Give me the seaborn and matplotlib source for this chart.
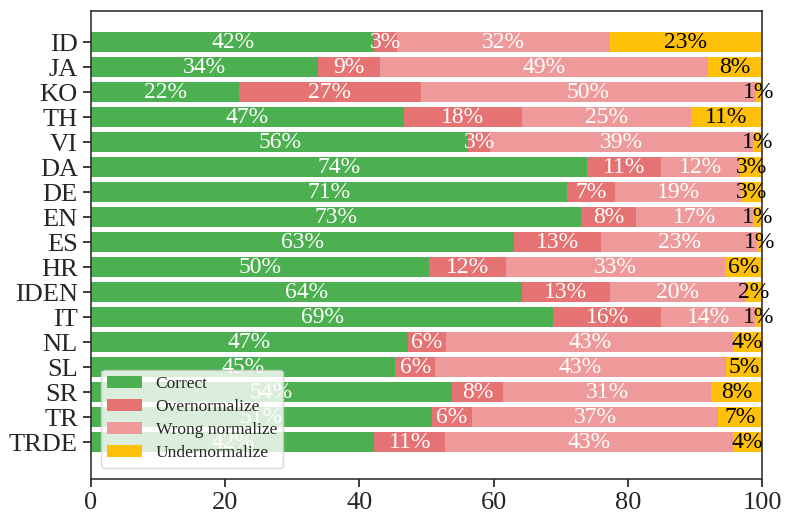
import matplotlib
matplotlib.use("Agg")
import matplotlib.pyplot as plt
import seaborn as sns
import numpy as np
import pandas as pd

languages = ["ID", "JA", "KO", "TH", "VI", "DA", "DE", "EN", "ES", "HR",
             "IDEN", "IT", "NL", "SL", "SR", "TR", "TRDE"]
correct = [42.2, 33.8, 22.1, 46.6, 56.2, 73.9, 70.9, 73.0, 63.0, 50.4,
           64.2, 68.9, 47.2, 45.3, 53.8, 50.8, 42.2]
overnormalize = [3.4, 9.2, 27.0, 17.6, 3.3, 11.0, 7.2, 8.2, 13.0, 11.5,
                 13.1, 16.1, 5.7, 6.0, 7.6, 6.0, 10.6]
wrong_normalize = [31.7, 49.0, 50.0, 25.2, 39.1, 11.8, 18.8, 17.4, 23.3, 32.6,
                   20.3, 14.0, 42.8, 43.3, 31.0, 36.6, 42.8]
undernormalize = [22.7, 8.0, 0.9, 10.6, 1.4, 3.3, 3.1, 1.4, 0.7, 5.5,
                  2.4, 1.0, 4.3, 5.4, 7.6, 6.6, 4.4]

series_names = ["Correct", "Overnormalize", "Wrong normalize", "Undernormalize"]
series_values = [correct, overnormalize, wrong_normalize, undernormalize]
colors = ["#4CAF50", "#E57373", "#EF9A9A", "#FFC107"]
text_colors = ["white", "white", "white", "black"]

sns.set_theme(style="ticks")
plt.rcParams["font.family"] = ["Liberation Serif", "DejaVu Serif"]

fig = plt.figure(figsize=(7.93, 5.25), dpi=100)
ax = fig.add_axes([0.1148, 0.0876, 0.8462, 0.8914])

vals = np.array(series_values)
cum = np.cumsum(vals, axis=0)
df = pd.DataFrame({"lang": languages})

# draw from the largest cumulative total down so earlier segments sit on top
for i in range(len(series_names) - 1, -1, -1):
    df["v"] = cum[i]
    sns.barplot(data=df, y="lang", x="v", orient="h", color=colors[i],
                saturation=1, width=0.8, ax=ax, label=series_names[i],
                order=languages, linewidth=0)

starts = cum - vals
for i in range(len(series_names)):
    for j, lang in enumerate(languages):
        center = starts[i, j] + vals[i, j] / 2
        ax.text(center, j, f"{int(round(vals[i, j]))}%", ha="center",
                va="center", color=text_colors[i], fontsize=17)

ax.set_xlim(0, 100)
ax.set_ylim(17.48, -1.24)
ax.set_xticks([0, 20, 40, 60, 80, 100])
ax.set_xlabel("")
ax.set_ylabel("")
ax.tick_params(axis="both", labelsize=19)
for s in ax.spines.values():
    s.set_color("#333333")
    s.set_linewidth(1.2)

handles, labels = ax.get_legend_handles_labels()
order = [labels.index(n) for n in series_names]
ax.legend([handles[k] for k in order], series_names, loc="lower left",
          fontsize=12.5, frameon=True, framealpha=0.8,
          bbox_to_anchor=(0.002, 0.006), borderpad=0.35, handlelength=2.0,
          labelspacing=0.4, handletextpad=0.8)

fig.savefig("out.png", dpi=100)
